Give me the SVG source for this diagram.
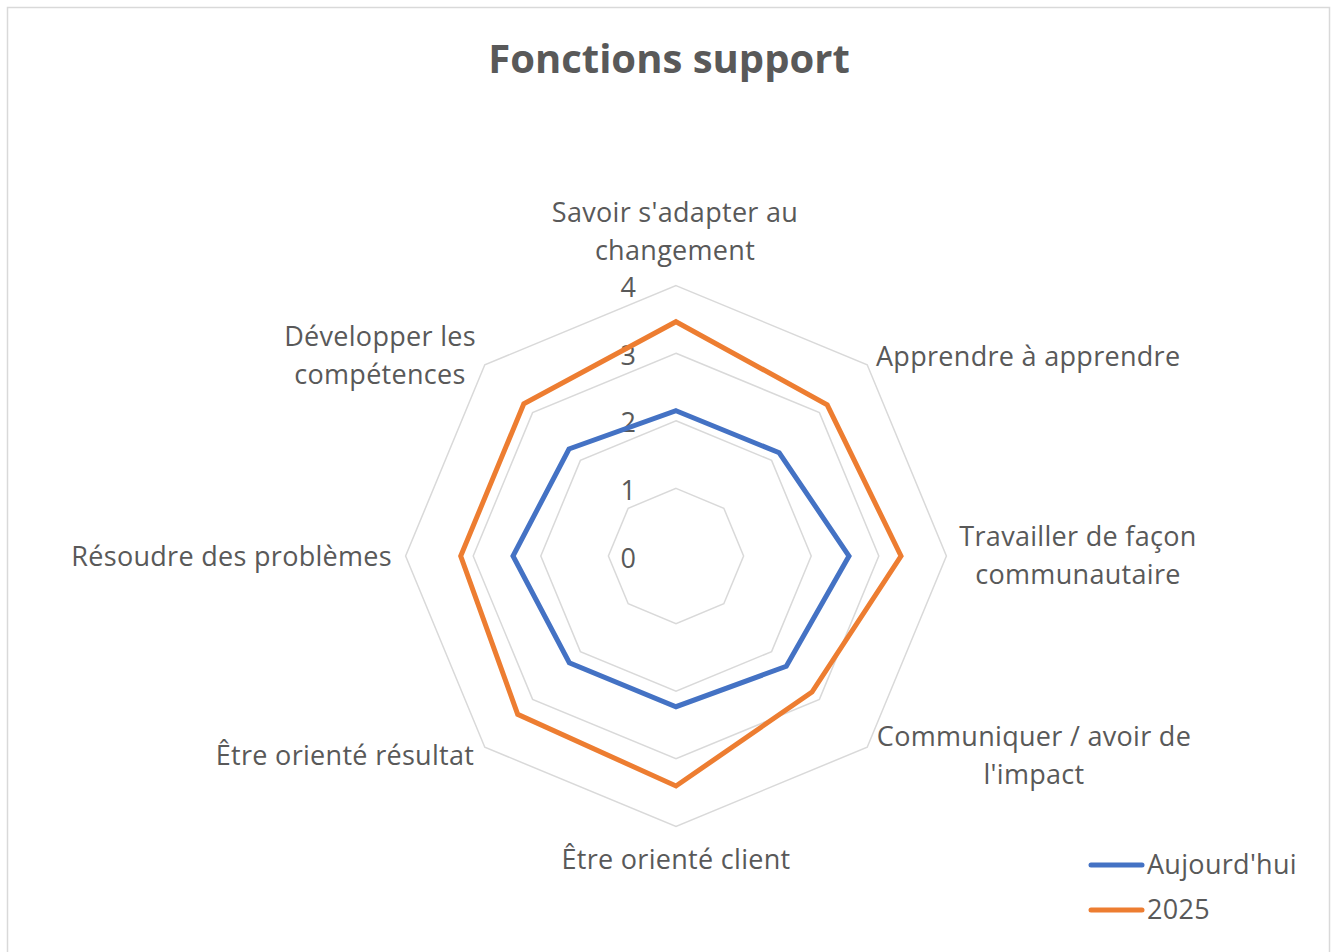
<svg xmlns="http://www.w3.org/2000/svg" width="1331" height="952" viewBox="0 0 1331 952">
<style>
text{font-family:"Open Sans","Noto Sans","Liberation Sans",sans-serif;fill:#595959}
.lbl{font-size:27px;letter-spacing:0.3px}
.tick{font-size:27px;text-anchor:end}
.grid{fill:none;stroke:#D9D9D9;stroke-width:1.5}
.s{fill:none;stroke-width:5;stroke-linejoin:miter}
.blue{stroke:#4472C4}
.orange{stroke:#ED7D31}
</style>
<rect x="0" y="0" width="1331" height="952" fill="#FFFFFF"/>
<rect x="7.5" y="7.5" width="1322" height="950" fill="#FFFFFF" stroke="#D9D9D9" stroke-width="1.5"/>
<text x="669" y="73" font-size="40" font-weight="bold" text-anchor="middle">Fonctions support</text>
<g id="grid">
<polygon class="grid" points="676,488.4 723.8,508.2 743.6,556 723.8,603.8 676,623.6 628.2,603.8 608.4,556 628.2,508.2"/>
<polygon class="grid" points="676,420.8 771.6,460.4 811.2,556 771.6,651.6 676,691.2 580.4,651.6 540.8,556 580.4,460.4"/>
<polygon class="grid" points="676,353.2 819.4,412.6 878.8,556 819.4,699.4 676,758.8 532.6,699.4 473.2,556 532.6,412.6"/>
<polygon class="grid" points="676,285.6 867.2,364.8 946.4,556 867.2,747.2 676,826.4 484.8,747.2 405.6,556 484.8,364.8"/>
</g>
<g id="ticks">
<text class="tick" x="636" y="297">4</text>
<text class="tick" x="636" y="365">3</text>
<text class="tick" x="636" y="432">2</text>
<text class="tick" x="636" y="500">1</text>
<text class="tick" x="636" y="568">0</text>
</g>
<g id="series">
<polygon id="s-aujourdhui" class="s blue" points="676,410.7 779.2,452.8 849,556 786.3,666.3 676,706.7 569.3,662.7 513,556 569,449"/>
<polygon id="s-2025" class="s orange" points="676,321.7 827.2,404.8 901,556 812,692 676,786 517.7,714.3 460.7,556 523.8,403.8"/>
</g>
<g id="axis-labels">
<text class="lbl" x="675" y="222" text-anchor="middle">Savoir s'adapter au</text>
<text class="lbl" x="675" y="260" text-anchor="middle">changement</text>
<text class="lbl" x="876" y="366">Apprendre à apprendre</text>
<text class="lbl" x="1078" y="546" text-anchor="middle">Travailler de façon</text>
<text class="lbl" x="1078" y="584" text-anchor="middle">communautaire</text>
<text class="lbl" x="1034" y="746" text-anchor="middle">Communiquer / avoir de</text>
<text class="lbl" x="1034" y="784" text-anchor="middle">l'impact</text>
<text class="lbl" x="676" y="869" text-anchor="middle">Être orienté client</text>
<text class="lbl" x="345" y="765" text-anchor="middle">Être orienté résultat</text>
<text class="lbl" x="392" y="566" text-anchor="end">Résoudre des problèmes</text>
<text class="lbl" x="380" y="346" text-anchor="middle">Développer les</text>
<text class="lbl" x="380" y="384" text-anchor="middle">compétences</text>
</g>
<g id="legend">
<line x1="1091" y1="865" x2="1142" y2="865" stroke="#4472C4" stroke-width="5" stroke-linecap="round"/>
<text class="lbl" x="1147" y="874">Aujourd'hui</text>
<line x1="1091" y1="910" x2="1142" y2="910" stroke="#ED7D31" stroke-width="5" stroke-linecap="round"/>
<text class="lbl" x="1147" y="919">2025</text>
</g>
</svg>
